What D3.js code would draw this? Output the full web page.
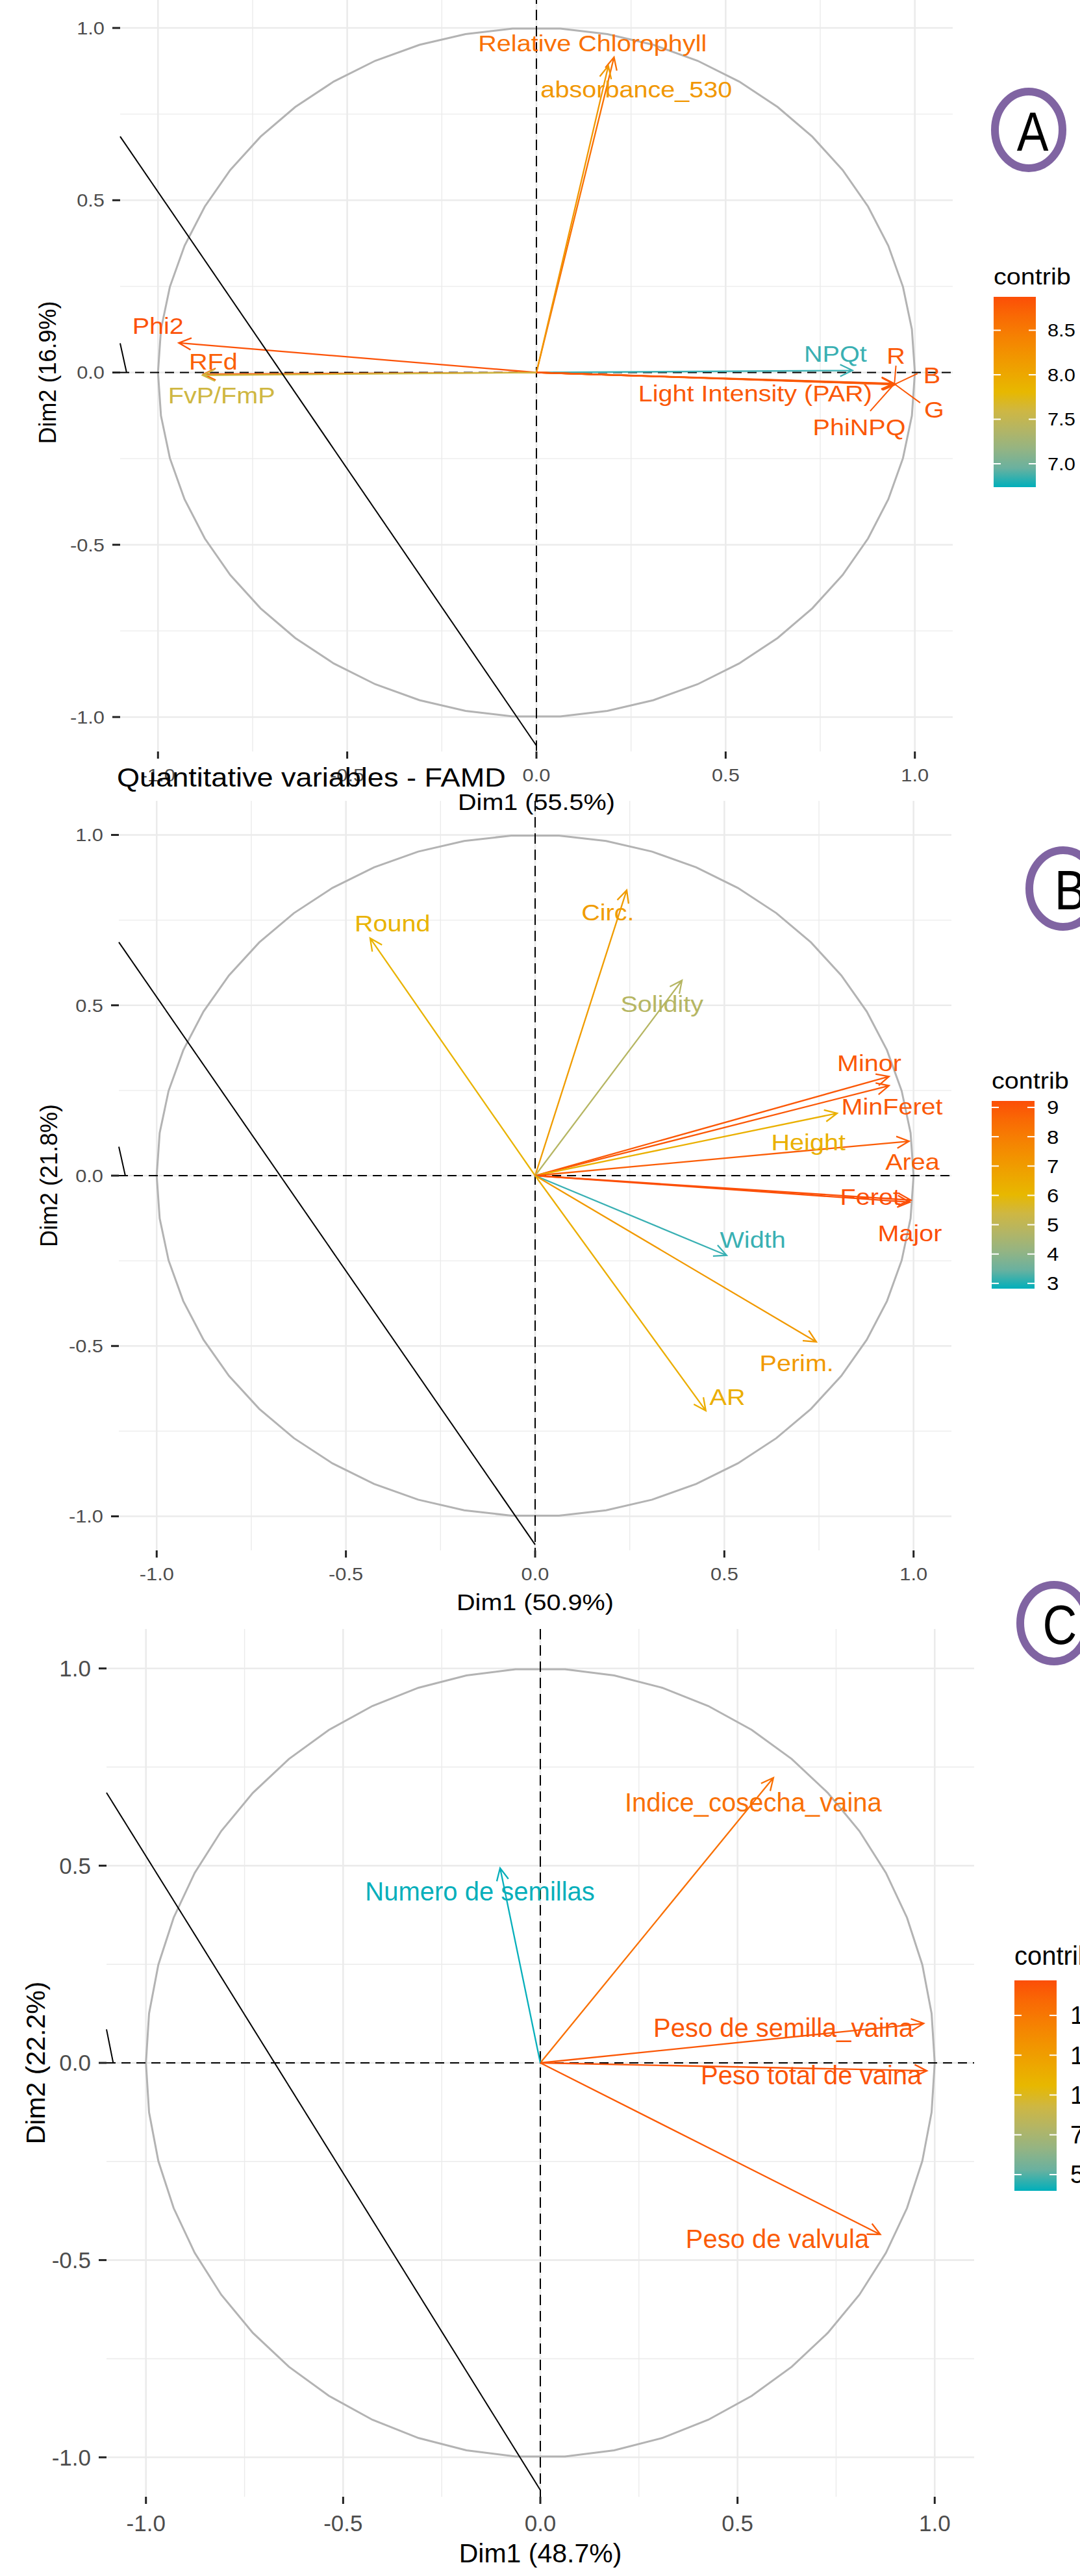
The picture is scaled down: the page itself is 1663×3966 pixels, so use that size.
<!DOCTYPE html>
<html>
<head>
<meta charset="utf-8">
<script src="https://cdn.jsdelivr.net/npm/d3@7"></script>
<style>
  body { margin: 0; background: #fff; }
  svg { display: block; font-family: 'Liberation Sans', Arial, sans-serif; }
</style>
</head>
<body>
<svg id="chart" width="1663" height="3966"></svg>
<script>
// shared axis ticks
const ticks = [-1, -0.5, 0, 0.5, 1];
const tickLabels = ['-1.0', '-0.5', '0.0', '0.5', '1.0'];
const minorTicks = [-0.75, -0.25, 0.25, 0.75];
const gradCols = ['#00AFBB', '#E7B800', '#FC4E07'];

// stray black pen stroke that shows on every panel (data units)
const strayLine = [[-1.1, 0.685], [0, -1.083]];
const strayArc = [[-1.1, 0.085], [-1.083, 0]];

// ---- panel A
const axisA = ['Dim1 (55.5%)', 'Dim2 (16.9%)'];
const varsA = ['Relative Chlorophyll', 'absorbance_530', 'Phi2', 'RFd', 'FvP/FmP', 'NPQt',
               'R', 'B', 'G', 'Light Intensity (PAR)', 'PhiNPQ'];
const dim1A = [0.205, 0.19, -0.945, -0.88, -0.882, 0.835, 0.946, 0.947, 0.948, 0.944, 0.945];
const dim2A = [0.915, 0.89, 0.086, -0.005, -0.008, 0.006, -0.033, -0.034, -0.035, -0.032, -0.034];
const contribA = [8.6, 8.2, 8.85, 8.75, 7.6, 6.8, 8.8, 8.8, 8.8, 8.8, 8.8];
const labXA = [0.148, 0.264, -1.0, -0.854, -0.832, 0.79, 0.95, 1.045, 1.051, 0.578, 0.853];
const labYA = [0.956, 0.822, 0.136, 0.032, -0.065, 0.054, 0.05, -0.008, -0.107, -0.06, -0.158];
const segXA = [null, null, null, null, null, null, 0.95, 1.007, 1.014, null, 0.882];
const segYA = [null, null, null, null, null, null, 0.02, -0.003, -0.088, null, -0.112];
const breaksA = [7.0, 7.5, 8.0, 8.5];
const rangeA = [6.737, 8.876];

// ---- panel B
const axisB = ['Dim1 (50.9%)', 'Dim2 (21.8%)'];
const varsB = ['Round', 'Circ.', 'Solidity', 'Minor', 'MinFeret', 'Height', 'Area',
               'Feret', 'Major', 'Width', 'Perim.', 'AR'];
const dim1B = [-0.436, 0.242, 0.388, 0.935, 0.935, 0.798, 0.988, 0.993, 0.99, 0.506, 0.743, 0.451];
const dim2B = [0.697, 0.838, 0.573, 0.291, 0.264, 0.183, 0.101, -0.072, -0.078, -0.234, -0.488, -0.69];
const contribB = [6.2, 7.0, 4.8, 9.0, 9.0, 6.3, 8.9, 9.2, 9.2, 3.0, 7.1, 6.4];
const labXB = [-0.377, 0.192, 0.335, 0.883, 0.943, 0.722, 0.997, 0.885, 0.99, 0.575, 0.691, 0.508];
const labYB = [0.741, 0.773, 0.505, 0.331, 0.204, 0.099, 0.042, -0.061, -0.168, -0.188, -0.55, -0.648];
const breaksB = [3, 4, 5, 6, 7, 8, 9];
const rangeB = [2.82, 9.22];

// ---- panel C
const axisC = ['Dim1 (48.7%)', 'Dim2 (22.2%)'];
const varsC = ['Indice_cosecha_vaina', 'Numero de semillas', 'Peso de semilla_vaina',
               'Peso total de vaina', 'Peso de valvula'];
const dim1C = [0.591, -0.102, 0.972, 0.98, 0.862];
const dim2C = [0.723, 0.494, 0.1, -0.02, -0.435];
const contribC = [15.5, 4.0, 16.8, 17.0, 16.6];
const labXC = [0.54, -0.153, 0.616, 0.687, 0.601];
const labYC = [0.66, 0.435, 0.089, -0.031, -0.446];
const breaksC = [5, 7.5, 10, 12.5, 15];
const rangeC = [3.98, 17.2];

const svg = d3.select('#chart');

const panels = [
  { id: 'A', axis: axisA, vars: varsA, d1: dim1A, d2: dim2A, contrib: contribA,
    lx: labXA, ly: labYA, sx: segXA, sy: segYA, breaks: breaksA, range: rangeA, fmt: d3.format('.1f'),
    left: 185, right: 1467, top: -10, bottom: 1157, stretch: 1.1,
    tickSize: 28, titleSize: 36, labelSize: 36, ytitleX: 73, tickY: 1193, xtitleY: 1234,
    leg: { x: 1530, w: 65, top: 457, bottom: 750, titleY: 425, labX: 1613, size: 28, tsize: 36 } },
  { id: 'B', axis: axisB, vars: varsB, d1: dim1B, d2: dim2B, contrib: contribB,
    lx: labXB, ly: labYB, breaks: breaksB, range: rangeB, fmt: d3.format('d'),
    left: 183, right: 1465, top: 1233, bottom: 2387, stretch: 1.1,
    tickSize: 28, titleSize: 36, labelSize: 36, ytitleX: 75, tickY: 2423, xtitleY: 2466,
    leg: { x: 1527, w: 66, top: 1695, bottom: 1984, titleY: 1663, labX: 1612, size: 30, tsize: 36 } },
  { id: 'C', axis: axisC, vars: varsC, d1: dim1C, d2: dim2C, contrib: contribC,
    lx: labXC, ly: labYC, breaks: breaksC, range: rangeC, fmt: d3.format('.1f'),
    left: 164, right: 1500, top: 2508, bottom: 3844, stretch: 1.0,
    tickSize: 35, titleSize: 41, labelSize: 40, ytitleX: 55, tickY: 3885, xtitleY: 3931,
    leg: { x: 1562, w: 65, top: 3049, bottom: 3373, titleY: 3011, labX: 1648, size: 38, tsize: 40 } }
];

function putText(g, x, y, str, size, fill, anchor, k) {
  return g.append('text')
    .attr('transform', `translate(${x},${y}) scale(${k},1)`)
    .attr('text-anchor', anchor)
    .attr('dy', '0.35em')
    .attr('font-size', size)
    .attr('fill', fill)
    .text(str);
}

function drawPanel(p) {
  const x = d3.scaleLinear().domain([-1.1, 1.1]).range([p.left, p.right]);
  const y = d3.scaleLinear().domain([-1.1, 1.1]).range([p.bottom, p.top]);
  const mid = (p.range[0] + p.range[1]) / 2;
  const color = d3.scaleLinear().domain([p.range[0], mid, p.range[1]])
      .range(gradCols).interpolate(d3.interpolateLab);

  const g = svg.append('g').attr('class', 'panel-' + p.id);

  // grid
  const grid = g.append('g').attr('stroke', '#ebebeb');
  grid.selectAll('.vmin').data(minorTicks).join('line')
      .attr('x1', d => x(d)).attr('x2', d => x(d))
      .attr('y1', p.top).attr('y2', p.bottom).attr('stroke-width', 1.4);
  grid.selectAll('.hmin').data(minorTicks).join('line')
      .attr('y1', d => y(d)).attr('y2', d => y(d))
      .attr('x1', p.left).attr('x2', p.right).attr('stroke-width', 1.4);
  grid.selectAll('.vmaj').data(ticks).join('line')
      .attr('x1', d => x(d)).attr('x2', d => x(d))
      .attr('y1', p.top).attr('y2', p.bottom).attr('stroke-width', 2.6);
  grid.selectAll('.hmaj').data(ticks).join('line')
      .attr('y1', d => y(d)).attr('y2', d => y(d))
      .attr('x1', p.left).attr('x2', p.right).attr('stroke-width', 2.6);

  // correlation circle
  const circ = d3.range(51).map(i => [Math.cos(i / 50 * 2 * Math.PI), Math.sin(i / 50 * 2 * Math.PI)]);
  g.append('path')
    .attr('d', d3.line().x(d => x(d[0])).y(d => y(d[1]))(circ))
    .attr('fill', 'none').attr('stroke', '#b3b3b3').attr('stroke-width', 3);

  // dashed zero lines
  g.append('line').attr('x1', p.left).attr('x2', p.right).attr('y1', y(0)).attr('y2', y(0))
    .attr('stroke', '#000').attr('stroke-width', 2).attr('stroke-dasharray', '14 9');
  g.append('line').attr('x1', x(0)).attr('x2', x(0)).attr('y1', p.top).attr('y2', p.bottom)
    .attr('stroke', '#000').attr('stroke-width', 2).attr('stroke-dasharray', '16 9');

  const rows = p.vars.map((v, i) => ({
    name: v, d1: p.d1[i], d2: p.d2[i], c: p.contrib[i], lx: p.lx[i], ly: p.ly[i],
    sx: p.sx ? p.sx[i] : null, sy: p.sy ? p.sy[i] : null
  }));

  // arrows
  const arrows = g.append('g').attr('fill', 'none').attr('stroke-width', 2.3);
  rows.forEach(r => {
    const x1 = x(r.d1), y1 = y(r.d2), x0 = x(0), y0 = y(0);
    const ang = Math.atan2(y1 - y0, x1 - x0);
    const L = 21, a = Math.PI / 7;
    const h1 = [x1 - L * Math.cos(ang - a), y1 - L * Math.sin(ang - a)];
    const h2 = [x1 - L * Math.cos(ang + a), y1 - L * Math.sin(ang + a)];
    arrows.append('path')
      .attr('d', `M${x0},${y0}L${x1},${y1}M${h1[0]},${h1[1]}L${x1},${y1}L${h2[0]},${h2[1]}`)
      .attr('stroke', color(r.c));
  });

  // repel segments
  rows.filter(r => r.sx !== null && r.sx !== undefined).forEach(r => {
    g.append('line')
      .attr('x1', x(r.d1)).attr('y1', y(r.d2)).attr('x2', x(r.sx)).attr('y2', y(r.sy))
      .attr('stroke', color(r.c)).attr('stroke-width', 2);
  });

  // labels
  rows.forEach(r => {
    putText(g, x(r.lx), y(r.ly), r.name, p.labelSize, color(r.c), 'middle', p.stretch);
  });

  // stray black stroke
  g.append('line')
    .attr('x1', x(strayLine[0][0])).attr('y1', y(strayLine[0][1]))
    .attr('x2', x(strayLine[1][0])).attr('y2', y(strayLine[1][1]))
    .attr('stroke', '#000').attr('stroke-width', 2);
  g.append('line')
    .attr('x1', x(strayArc[0][0])).attr('y1', y(strayArc[0][1]))
    .attr('x2', x(strayArc[1][0])).attr('y2', y(strayArc[1][1]))
    .attr('stroke', '#000').attr('stroke-width', 2);

  // axis ticks + labels
  const ax = g.append('g');
  ticks.forEach((t, i) => {
    ax.append('line').attr('x1', p.left - 12).attr('x2', p.left).attr('y1', y(t)).attr('y2', y(t))
      .attr('stroke', '#222').attr('stroke-width', 3);
    ax.append('line').attr('x1', x(t)).attr('x2', x(t)).attr('y1', p.bottom).attr('y2', p.bottom + 11)
      .attr('stroke', '#222').attr('stroke-width', 3);
    putText(ax, p.left - 24, y(t), tickLabels[i], p.tickSize, '#4d4d4d', 'end', p.stretch);
    putText(ax, x(t), p.tickY, tickLabels[i], p.tickSize, '#4d4d4d', 'middle', p.stretch);
  });
  putText(ax, (p.left + p.right) / 2, p.xtitleY, p.axis[0], p.titleSize, '#000', 'middle', p.stretch);
  ax.append('text')
    .attr('transform', `translate(${p.ytitleX},${(p.top + p.bottom) / 2}) rotate(-90)`)
    .attr('text-anchor', 'middle').attr('dy', '0.35em')
    .attr('font-size', p.titleSize).attr('fill', '#000')
    .text(p.axis[1]);

  // colour bar legend
  const L = p.leg;
  const ly = d3.scaleLinear().domain(p.range).range([L.bottom, L.top]);
  const gid = 'grad' + p.id;
  const grad = svg.append('defs').append('linearGradient').attr('id', gid)
      .attr('x1', 0).attr('y1', 1).attr('x2', 0).attr('y2', 0);
  d3.range(11).forEach(i => {
    const v = p.range[0] + (p.range[1] - p.range[0]) * i / 10;
    grad.append('stop').attr('offset', i / 10).attr('stop-color', color(v));
  });
  const lg = g.append('g');
  putText(lg, L.x, L.titleY, 'contrib', L.tsize, '#000', 'start', p.stretch);
  lg.append('rect').attr('x', L.x).attr('y', L.top).attr('width', L.w)
    .attr('height', L.bottom - L.top).attr('fill', `url(#${gid})`);
  p.breaks.forEach(b => {
    const yy = ly(b);
    lg.append('line').attr('x1', L.x).attr('x2', L.x + 11).attr('y1', yy).attr('y2', yy)
      .attr('stroke', '#fff').attr('stroke-width', 2);
    lg.append('line').attr('x1', L.x + L.w - 11).attr('x2', L.x + L.w).attr('y1', yy).attr('y2', yy)
      .attr('stroke', '#fff').attr('stroke-width', 2);
    putText(lg, L.labX, yy, p.fmt(b), L.size, '#000', 'start', p.stretch);
  });
}

panels.forEach(drawPanel);

// plot title from panel B, sits over panel A's x labels
svg.append('text')
  .attr('transform', 'translate(180,1211) scale(1.1,1)')
  .attr('font-size', 41).attr('fill', '#000')
  .text('Quantitative variables - FAMD');

// circled panel letters
const letters = [
  { t: 'A', cx: 1584, cy: 200, tx: 1590 },
  { t: 'B', cx: 1637, cy: 1368, tx: 1648 },
  { t: 'C', cx: 1623, cy: 2499, tx: 1632 }
];
letters.forEach(l => {
  svg.append('ellipse').attr('cx', l.cx).attr('cy', l.cy).attr('rx', 52).attr('ry', 59)
    .attr('fill', 'none').attr('stroke', '#8064A2').attr('stroke-width', 12);
  svg.append('text')
    .attr('transform', `translate(${l.tx},${l.cy + 2}) scale(0.85,1)`)
    .attr('text-anchor', 'middle').attr('dy', '0.35em')
    .attr('font-size', 86).attr('fill', '#000')
    .text(l.t);
});
</script>
</body>
</html>
